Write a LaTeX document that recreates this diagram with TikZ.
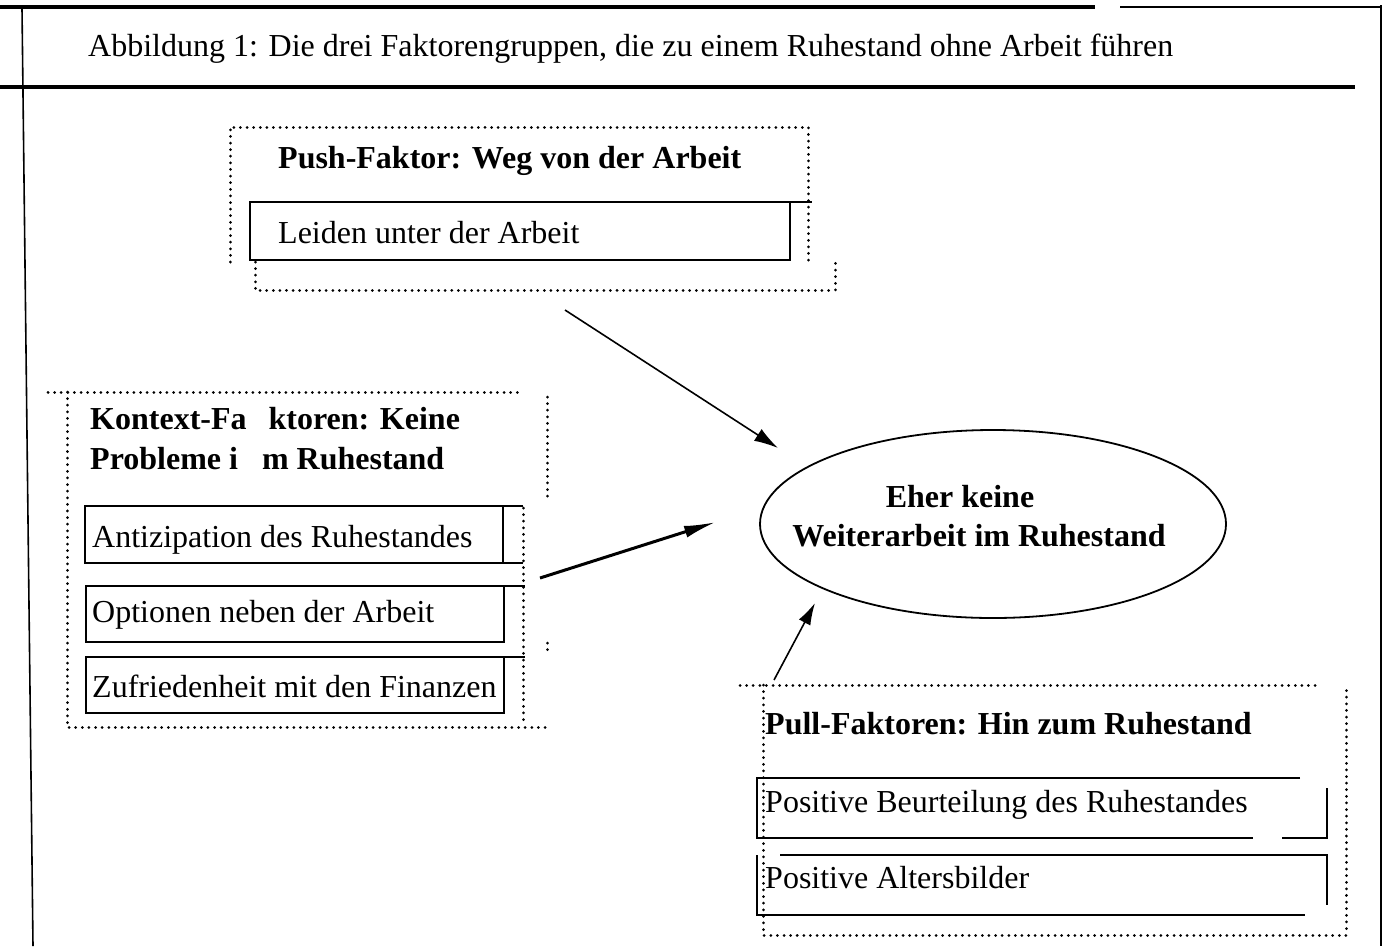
\documentclass[tikz,border=0pt]{standalone}
\usepackage{fontspec}
\setmainfont{Liberation Serif}
\usetikzlibrary{arrows.meta,shapes.geometric}
\begin{document}
\begin{tikzpicture}[x=1pt,y=-1pt,
 frame/.style={line width=1.6pt},
 heavy/.style={line width=3.5pt},
 dotline/.style={line width=3pt, line cap=round, dash pattern=on 0.01pt off 6.6pt},
 boxline/.style={line width=2pt},
 txt/.style={anchor=base west, inner sep=0pt, font=\fontsize{32}{39}\selectfont},
 btxt/.style={anchor=base west, inner sep=0pt, font=\fontsize{32}{39}\selectfont\bfseries},
 arr/.style={line width=1.6pt, -{Latex[length=24pt,width=14pt]}},
]
\useasboundingbox (0,0) rectangle (1386,946);
% outer frame
\draw[heavy] (0,7) -- (1095,7);
\draw[line width=2.5pt] (1120,7) -- (1381,7);
\draw[frame] (1381,5) -- (1381,946);
\draw[frame] (22,8) -- (33,946);
\draw[heavy] (0,87) -- (1355,87);
\node[txt] (title) at (88,56) {Abbildung 1: Die drei Faktorengruppen, die zu einem Ruhestand ohne Arbeit führen};
% push group
\draw[dotline] (230,262) -- (230,127) -- (808,127) -- (808,262);
\draw[dotline] (255,262) -- (255,290) -- (835,290) -- (835,262);
\draw[boxline] (250,202) rectangle (790,260);
\draw[boxline] (790,202) -- (812,202);
\node[btxt] (push) at (278,168) {Push-Faktor: Weg von der Arbeit};
\node[txt] (leiden) at (278,243) {Leiden unter der Arbeit};
% kontext group
\draw[dotline] (48,392) -- (523,392);
\draw[dotline] (67,392) -- (67,727) -- (550,727);
\draw[dotline] (547,397) -- (547,498);
\draw[dotline] (523,508) -- (523,720);
\draw[dotline] (547,643) -- (547,652);
\draw[boxline] (523,506) -- (85,506) -- (85,563) -- (523,563);
\draw[boxline] (503,506) -- (503,563);
\draw[boxline] (525,586) -- (86,586) -- (86,642) -- (504,642) -- (504,586);
\draw[boxline] (525,657) -- (86,657) -- (86,713) -- (504,713) -- (504,657);
\node[btxt] (k1) at (90,429) {Kontext-Fa\hspace{22pt}ktoren: Keine};
\node[btxt] (k2) at (90,469) {Probleme i\hspace{24pt}m Ruhestand};
\node[txt] (anti) at (92,547) {Antizipation des Ruhestandes};
\node[txt] (opt) at (92,622) {Optionen neben der Arbeit};
\node[txt] (zuf) at (92,697) {Zufriedenheit mit den Finanzen};
% goal ellipse
\node[draw, ellipse, line width=1.8pt, minimum width=466pt, minimum height=188pt] (goal) at (993,524) {};
\node[btxt, anchor=base] (g1) at (960,507) {Eher keine};
\node[btxt, anchor=base] (g2) at (979,546) {Weiterarbeit im Ruhestand};
% pull group
\draw[dotline] (740,685) -- (1318,685);
\draw[dotline] (763,685) -- (763,935) -- (1346,935) -- (1346,685);
\draw[boxline] (1300,778) -- (757,778) -- (757,838) -- (1253,838);
\draw[boxline] (1282,838) -- (1327,838) -- (1327,788);
\draw[boxline] (1328,855) -- (780,855);
\draw[boxline] (757,855) -- (757,915) -- (1305,915);
\draw[boxline] (1327,855) -- (1327,905);
\node[btxt] (pull) at (765,734) {Pull-Faktoren: Hin zum Ruhestand};
\node[txt] (pb) at (765,812) {Positive Beurteilung des Ruhestandes};
\node[txt] (pa) at (765,888) {Positive Altersbilder};
% arrows
\coordinate (pusht) at (565,310);
\coordinate (pushh) at (778,448);
\coordinate (kt) at (540,578);
\coordinate (kh) at (716,522);
\coordinate (pullt) at (774,680);
\coordinate (pullh) at (815,603);
\draw[arr] (pusht) -- (pushh);
\draw[line width=3pt, -{Latex[length=32pt,width=12pt]}] (kt) -- (kh);
\draw[line width=1.6pt, -{Latex[length=22pt,width=13pt]}] (pullt) -- (pullh);
\end{tikzpicture}
\end{document}
